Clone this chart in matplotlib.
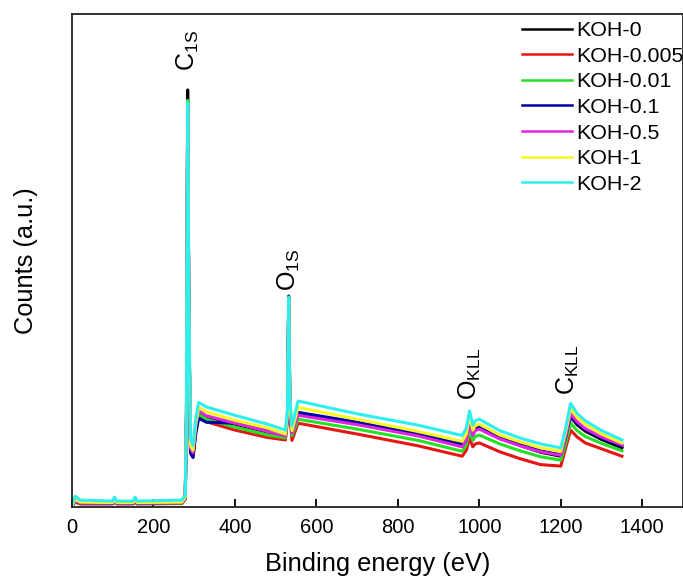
import matplotlib
matplotlib.use("Agg")
import matplotlib.pyplot as plt

plt.rcParams["font.family"] = ["Liberation Sans", "DejaVu Sans"]
plt.rcParams["mathtext.fontset"] = "custom"
plt.rcParams["mathtext.rm"] = "Liberation Sans"

# survey spectra, counts as % of the plotted range, sampled at these energies (eV)
energy = [0, 8, 20, 100, 104, 110, 150, 155, 160, 270, 278, 281, 284, 287, 291,
          297, 304, 311, 330, 400, 480, 524, 529, 532, 535, 540, 555, 700, 850,
          958, 968, 976, 984, 990, 1000, 1050, 1100, 1150, 1200, 1212, 1224,
          1240, 1260, 1300, 1350]

koh_0 = [0.3, 1.2, 0.8, 0.8, 1.1, 0.8, 0.8, 1.1, 0.8, 0.9, 1.8, 19, 84.6, 38,
         11, 10.1, 16, 19, 18, 16.8, 15.2, 14.5, 18.5, 42.8, 20, 15, 18.8, 17,
         14.6, 12.5, 13.8, 17.3, 14.8, 15.8, 16.1, 14, 12.5, 11.1, 10.3, 14,
         18.3, 16.7, 15.4, 13.7, 12.0]
koh_0005 = [0.2, 1.0, 0.6, 0.6, 0.9, 0.6, 0.6, 0.9, 0.6, 0.7, 1.6, 18, 81.5,
            36.5, 11, 10.1, 15.5, 18.5, 17.3, 15.6, 14.1, 13.6, 17.5, 41.5,
            18.5, 13.5, 17, 14.8, 12.4, 10.3, 11.5, 14, 12.2, 12.8, 13, 11.2,
            9.8, 8.6, 8.3, 12, 15.6, 14.2, 13, 11.8, 10.3]
koh_001 = [0.3, 1.1, 0.7, 0.7, 1.0, 0.7, 0.7, 1.0, 0.7, 0.8, 1.7, 18.5, 82.5,
           37.5, 11.5, 10.8, 15.8, 18.8, 17.8, 16.2, 14.6, 14.0, 18, 42, 19.5,
           14.5, 17.8, 15.8, 13.5, 11.3, 12.6, 15.6, 13.5, 14.3, 14.6, 12.8,
           11.4, 10.2, 9.5, 13, 17, 15.5, 14.3, 12.9, 11.4]
koh_01 = [0.3, 1.2, 0.8, 0.8, 1.1, 0.8, 0.8, 1.1, 0.8, 0.9, 1.8, 18, 81.5, 37,
          11, 10.1, 15, 18, 17.2, 17, 15.5, 14.6, 18.5, 41.5, 20, 15.2, 19.2,
          17.2, 14.9, 12.8, 14, 17.4, 15, 16, 16.3, 14.2, 12.8, 11.4, 10.6,
          14.2, 18.5, 17.0, 15.7, 14, 12.4]
koh_05 = [0.3, 1.3, 0.8, 0.8, 1.2, 0.8, 0.8, 1.2, 0.8, 0.9, 1.8, 18.5, 81.5,
          38, 12, 11, 16.5, 19.5, 18.5, 17, 15.3, 14.4, 18.5, 41.5, 20, 15,
          18.6, 16.7, 14.4, 12.2, 13.5, 17, 14.5, 15.5, 15.8, 13.8, 12.4, 11.2,
          10.5, 14.3, 18.9, 17.3, 15.9, 14.2, 12.6]
koh_1 = [0.3, 1.6, 1.0, 0.9, 1.5, 0.9, 0.9, 1.5, 0.9, 1.0, 2.0, 19, 81.5, 39,
         12.5, 11.5, 17, 20.2, 19.3, 17.6, 16, 14.8, 19, 42, 21, 15.5, 20.2,
         17.8, 15.3, 13.3, 14.8, 18.6, 15.6, 16.5, 16.8, 14.6, 13.2, 12.0,
         11.3, 15.3, 20, 18.2, 16.8, 14.8, 13.0]
koh_2 = [0.5, 2.2, 1.4, 1.2, 2.0, 1.2, 1.2, 2.0, 1.2, 1.4, 2.5, 20, 82, 40, 14,
         12.5, 18, 21.2, 20.3, 18.6, 16.8, 15.6, 20, 42.6, 22, 16.5, 21.5,
         18.9, 16.6, 14.5, 16, 19.5, 16.6, 17.5, 17.8, 15.5, 14, 12.8, 12.0,
         16, 21, 19, 17.5, 15.5, 13.6]

labels = ["KOH-0", "KOH-0.005", "KOH-0.01", "KOH-0.1", "KOH-0.5", "KOH-1", "KOH-2"]
colors = ["#000000", "#e81515", "#25e025", "#0000a8", "#e025e0", "#f8f820", "#2eeeee"]
series = [koh_0, koh_0005, koh_001, koh_01, koh_05, koh_1, koh_2]

# peak assignments: (label, energy, height of label base)
peaks = [(r"C$_{\rm 1S}$", 284, 88.4),
         (r"O$_{\rm 1S}$", 532, 43.8),
         (r"O$_{\rm KLL}$", 977, 21.7),
         (r"C$_{\rm KLL}$", 1218, 22.7)]

fig = plt.figure(figsize=(6.83, 5.8), dpi=100)
ax = fig.add_axes([72 / 683, 73 / 580, 611 / 683, 493 / 580])

for y, c, lab in zip(series, colors, labels):
    ax.plot(energy, y, color=c, lw=2.2, label=lab)

for txt, e, h in peaks:
    ax.text(e, h, txt, rotation=90, ha="center", va="bottom", fontsize=18)

ax.set_xlim(0, 1500)
ax.set_ylim(0, 100)
ax.set_yticks([])
ax.set_xticks([0, 200, 400, 600, 800, 1000, 1200, 1400])
ax.tick_params(axis="x", direction="in", length=6, width=1.3, pad=8, labelsize=14.5)
for s in ax.spines.values():
    s.set_linewidth(1.3)
    s.set_color("#222222")

ax.set_xlabel("Binding energy (eV)", fontsize=18.3, labelpad=11)
ax.set_ylabel("Counts (a.u.)", fontsize=18.3, labelpad=24.5)

leg = ax.legend(loc="upper left", bbox_to_anchor=(522 / 683, 1 - 21 / 580),
                bbox_transform=fig.transFigure, frameon=False, fontsize=15.4,
                handlelength=2.35, handletextpad=0.2, labelspacing=0.31,
                borderpad=0, borderaxespad=0)
for line in leg.get_lines():
    line.set_linewidth(1.8)

fig.savefig("out.png", dpi=100)
